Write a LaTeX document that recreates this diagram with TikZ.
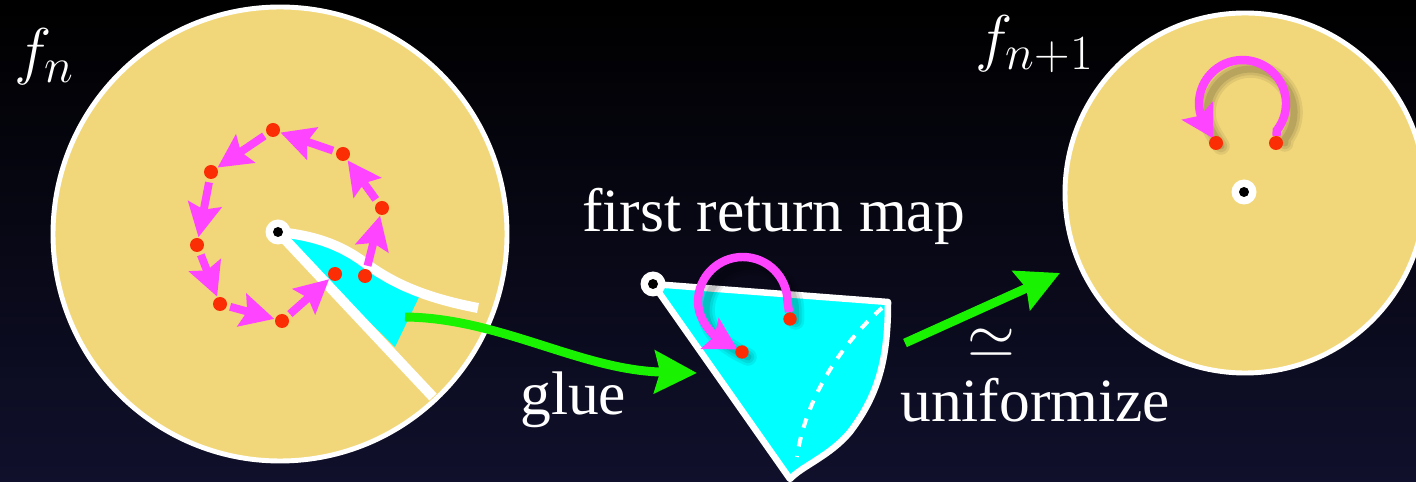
\RequirePackage{fix-cm}
\documentclass[tikz,border=0pt]{standalone}
\usepackage[no-math]{fontspec}
\setmainfont{Liberation Serif}
\usetikzlibrary{arrows.meta}
\DeclareMathSizes{36}{36}{28}{22}
\definecolor{sand}{RGB}{242,215,122}
\definecolor{aqua}{RGB}{0,255,255}
\definecolor{pinkarrow}{RGB}{255,68,255}
\definecolor{dotred}{RGB}{250,45,5}
\definecolor{gluegreen}{RGB}{25,242,0}
\definecolor{night}{RGB}{16,16,44}

\begin{document}
\begin{tikzpicture}[x=0.02cm,y=-0.02cm,
  every node/.style={text=white,inner sep=0pt,font=\fontsize{35}{42}\selectfont},
  mathlabel/.style={anchor=base west,font=\fontsize{36}{42}\selectfont},
  disk/.style={fill=sand,draw=white,line width=2.8pt},
  cut/.style={draw=white,line width=5.7pt},
  orbit/.style={draw=pinkarrow,line width=4.5pt,-{Stealth[length=19pt,width=19pt,inset=3pt]},shorten <=6pt,shorten >=4.5pt},
  loop/.style={draw=pinkarrow,line width=4.8pt,-{Stealth[length=18pt,width=20pt,inset=3pt]},shorten <=4pt,shorten >=3pt},
  loopshadow/.style={draw=black,opacity=#1,line cap=round,line join=round},
  move/.style={draw=gluegreen,line width=5.1pt,-{Stealth[length=24pt,width=24pt,inset=3pt]}},
  reddot/.style={fill=dotred}]
\useasboundingbox (0,0) rectangle (1416,482);
\shade[top color=black,bottom color=night] (0,0) rectangle (1416,482);

% f_n
\coordinate (c0) at (280,234);
\draw[disk] (c0) circle (227);
\coordinate (p0) at (278,232);
\fill[aqua] (p0) .. controls (320,236) and (345,248) .. (365,263)
  .. controls (385,276) and (403,288) .. (420,295) -- (395,347) -- cycle;
\draw[cut] (p0) -- (433,397);
\draw[cut] (p0) .. controls (320,236) and (345,248) .. (365,263)
  .. controls (390,281) and (420,297) .. (478,308);
\fill[white] (p0) circle (12.5);
\fill[black] (p0) circle (5);

\coordinate (a1) at (365,276);
\coordinate (a2) at (382,208);
\coordinate (a3) at (343,154);
\coordinate (a4) at (273,130);
\coordinate (a5) at (211,172);
\coordinate (a6) at (197,245);
\coordinate (a7) at (220,304);
\coordinate (a8) at (282,321);
\coordinate (a9) at (335,274);
\foreach \i/\j in {1/2,2/3,3/4,4/5,5/6,6/7,7/8,8/9}
  \draw[orbit] (a\i) -- (a\j);
\foreach \i in {1,...,9}
  \fill[reddot] (a\i) circle (7);

% first return map
\coordinate (m0) at (653,284);
\coordinate (mb) at (888,302);
\coordinate (mc) at (790,479);
\filldraw[fill=aqua,draw=white,line width=3.7pt,line join=round] (m0) -- (mb)
  .. controls (888,360) and (878,395) .. (850,432)
  .. controls (830,456) and (802,466) .. (mc) -- cycle;
\draw[white,line width=2.3pt,dash pattern=on 5.5pt off 5.5pt] (882,308)
  .. controls (840,345) and (805,400) .. (797,457);
\fill[white] (m0) circle (12.5);
\fill[black] (m0) circle (5);

\coordinate (n1) at (790,319);
\coordinate (n2) at (742,352);
\begin{scope}[shift={(8,9)}]
\foreach \w/\o in {10pt/0.07,7pt/0.08,4pt/0.1}
  \draw[loopshadow=\o,line width=\w] (787.5,312) -- (787.5,301.75) arc (0:-180:44.75)
    .. controls (698,322) and (716,337) .. (740,348);
\end{scope}
\draw[loop] (n1) -- (787.5,301.75) arc (0:-180:44.75)
  .. controls (698,322) and (716,337) .. (n2);
\fill[reddot] (n1) circle (6.7);
\fill[reddot] (n2) circle (6.7);

% f_{n+1}
\coordinate (c2) at (1245,193);
\draw[disk] (c2) circle (180);
\coordinate (q0) at (1244,192);
\fill[white] (q0) circle (12.5);
\fill[black] (q0) circle (5);

\coordinate (r1) at (1276,143);
\coordinate (r2) at (1216,143);
\begin{scope}[shift={(8,9)}]
\foreach \w/\o in {10pt/0.07,7pt/0.08,4pt/0.1}
  \draw[loopshadow=\o,line width=\w] (1276.8,134) -- (1276.8,130.3) arc (38:-180:43.5)
    .. controls (1199,116) and (1205,124) .. (1213,137);
\end{scope}
\draw[loop] (r1) -- (1276.8,130.3) arc (38:-180:43.5)
  .. controls (1199,116) and (1205,124) .. (r2);
\fill[reddot] (r1) circle (7);
\fill[reddot] (r2) circle (7);

% arrows between the pictures
\coordinate (g0) at (405,317);
\coordinate (g1) at (697,373);
\draw[move] (g0) .. controls (500,318) and (580,370) .. (g1);
\coordinate (u0) at (905,343);
\coordinate (u1) at (1060,273);
\draw[move] (u0) -- (u1);

\node[mathlabel] (fn) at (14,73) {$f_n$};
\node[mathlabel] (fnext) at (975,60) {$f_{n+1}$};
\node[anchor=base west] (firstret) at (582,232) {first return map};
\node[anchor=base west] (glue) at (520,415) {glue};
\node (simeq) at (991.5,343) {$\simeq$};
\node[anchor=base west] (unif) at (900,422) {uniformize};
\end{tikzpicture}
\end{document}
